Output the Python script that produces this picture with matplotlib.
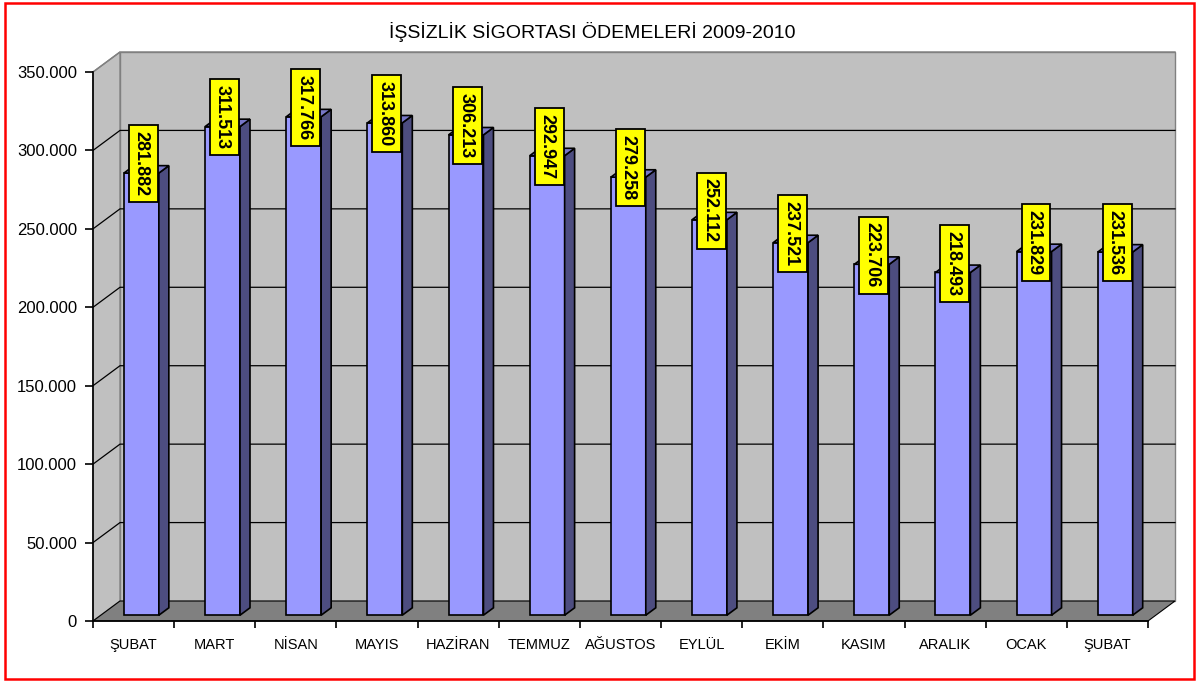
import matplotlib.pyplot as plt
from matplotlib.patches import Polygon, Rectangle

plt.rcParams['font.family'] = ['Liberation Sans', 'DejaVu Sans']

months = ['ŞUBAT', 'MART', 'NİSAN', 'MAYIS', 'HAZİRAN', 'TEMMUZ', 'AĞUSTOS',
          'EYLÜL', 'EKİM', 'KASIM', 'ARALIK', 'OCAK', 'ŞUBAT']
payments = [281882, 311513, 317766, 313860, 306213, 292947, 279258,
            252112, 237521, 223706, 218493, 231829, 231536]
yticks = [0, 50000, 100000, 150000, 200000, 250000, 300000, 350000]


def tr_fmt(v):
    return f"{int(v):,}".replace(',', '.')


W, H = 1197, 682
fig = plt.figure(figsize=(W / 100, H / 100), dpi=100)

# front plane of the 3D chart, in pixels: x 93..1148, y 621 (0) .. 72 (350k)
ax = fig.add_axes([93 / W, (H - 621) / H, 1055 / W, 549 / H])
n = len(months)
ymax = 350000
ax.set_xlim(0, n)
ax.set_ylim(0, ymax)
ax.patch.set_visible(False)

# depth offset (27 px right, 20 px up) in data units
ddx = n * 27 / 1055
ddy = ymax * 20 / 549

wall = '#C0C0C0'
floor = '#808080'

# back wall
ax.add_patch(Polygon([(ddx, ddy), (n + ddx, ddy), (n + ddx, ymax + ddy), (ddx, ymax + ddy)],
                     closed=True, fc=wall, ec='#808080', lw=1, zorder=0.5, clip_on=False))
# left wall
ax.add_patch(Polygon([(0, 0), (ddx, ddy), (ddx, ymax + ddy), (0, ymax)],
                     closed=True, fc=wall, ec='#808080', lw=1, zorder=0.5, clip_on=False))
# floor
ax.add_patch(Polygon([(0, 0), (n, 0), (n + ddx, ddy), (ddx, ddy)],
                     closed=True, fc=floor, ec='black', lw=0.8, zorder=0.6, clip_on=False))

# gridlines on walls
for v in yticks[1:-1]:
    ax.plot([0, ddx, n + ddx], [v, v + ddy, v + ddy], color='black', lw=0.9,
            zorder=0.8, clip_on=False)
ax.plot([0, ddx, n + ddx], [ymax, ymax + ddy, ymax + ddy], color='#808080', lw=1,
        zorder=0.8, clip_on=False)

# bars
f1, f2 = 0.29, 0.66
bw = 0.43
front_c = '#9999FF'
side_c = '#4D4D80'
top_c = '#7878C8'
for i, v in enumerate(payments):
    c = i + 0.5
    xl = c - bw / 2 + f1 * ddx
    xr = xl + bw
    y0 = f1 * ddy
    ex = (f2 - f1) * ddx
    ey = (f2 - f1) * ddy
    ax.add_patch(Rectangle((xl, y0), bw, v, fc=front_c, ec='black', lw=1.2,
                           zorder=2, clip_on=False))
    ax.add_patch(Polygon([(xr, y0), (xr + ex, y0 + ey), (xr + ex, v + y0 + ey), (xr, v + y0)],
                         closed=True, fc=side_c, ec='black', lw=1.2, zorder=2, clip_on=False))
    ax.add_patch(Polygon([(xl, v + y0), (xr, v + y0), (xr + ex, v + y0 + ey), (xl + ex, v + y0 + ey)],
                         closed=True, fc=top_c, ec='black', lw=1.2, zorder=2, clip_on=False))
    # yellow box (invisible text) + visible text nudged to sit centred in it
    lx, ly = c + 0.36 * ddx, v + 0.75 * ddy
    ax.text(lx, ly, tr_fmt(v), rotation=270, color='none',
            ha='center', va='center', fontsize=13, fontweight='bold', zorder=3,
            bbox=dict(boxstyle='square,pad=0.33', fc='#FFFF00', ec='black', lw=1.3))
    ax.annotate(tr_fmt(v), (lx, ly), xytext=(-1.4, 0), textcoords='offset points',
                rotation=270, ha='center', va='center', fontsize=13,
                fontweight='bold', zorder=4, annotation_clip=False)

# axes styling
for s in ['top', 'right']:
    ax.spines[s].set_visible(False)
ax.spines['left'].set_linewidth(1.2)
ax.spines['bottom'].set_linewidth(1.2)
ax.spines['left'].set_zorder(1)
ax.spines['bottom'].set_zorder(1)

ax.set_yticks(yticks)
ax.set_yticklabels([tr_fmt(v) for v in yticks])
ax.tick_params(axis='y', direction='out', length=6, width=1.2, pad=5.5, labelsize=12)

ax.set_xticks(range(n + 1))
ax.set_xticklabels([])
ax.set_xticks([i + 0.5 for i in range(n)], minor=True)
ax.set_xticklabels(months, minor=True)
ax.tick_params(axis='x', which='major', direction='out', length=5, width=1.2)
ax.tick_params(axis='x', which='minor', length=0, pad=12, labelsize=10.5)

fig.text(592.5 / W, 1 - 32 / H, 'İŞSİZLİK SİGORTASI ÖDEMELERİ 2009-2010',
         ha='center', va='center', fontsize=14)

# red frame
fig.add_artist(Rectangle((5 / W, 3 / H), 1189 / W, 676 / H, transform=fig.transFigure,
                         fill=False, ec='red', lw=1.8))

fig.savefig('out.png', dpi=100)
